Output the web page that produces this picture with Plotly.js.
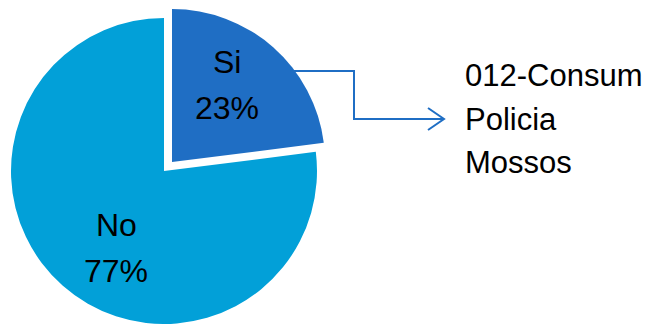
<!DOCTYPE html>
<html>
<head>
<meta charset="utf-8">
<script src="https://cdn.plot.ly/plotly-3.0.1.min.js"></script>
<style>html,body{margin:0;padding:0;background:#fff;}#chart{width:659px;height:324px;}</style>
</head>
<body>
<div id="chart"></div>
<script>
var categories = ['Si', 'No'];
var values = [23, 77];
var sliceColors = ['#1F6EC4', '#02A0D8'];
var calloutLines = ['012-Consum', 'Policia', 'Mossos'];

var W = 659, H = 324;
function px(x) { return x / W; }
function py(y) { return 1 - y / H; }

var fontFam = 'Liberation Sans, Arial, sans-serif';
var clear = 'rgba(0,0,0,0)';
var total = values.reduce(function (a, b) { return a + b; }, 0);

// main pie (No slice), and the pulled-out Si slice drawn as a second trace
var traceNo = {
  type: 'pie', labels: categories, values: values, sort: false,
  direction: 'clockwise', rotation: 0,
  marker: { colors: [clear, sliceColors[1]], line: { width: 0 } },
  textinfo: 'none',
  domain: { x: [px(11), px(317)], y: [py(324), py(18)] },
  hoverinfo: 'skip', showlegend: false
};
var traceSi = {
  type: 'pie', labels: categories, values: values, sort: false,
  direction: 'clockwise', rotation: 0,
  marker: { colors: [sliceColors[0], clear], line: { width: 0 } },
  textinfo: 'none',
  domain: { x: [px(19), px(325)], y: [py(315), py(9)] },
  hoverinfo: 'skip', showlegend: false
};

var path = 'M ' + px(260) + ',' + py(71) + ' L ' + px(354) + ',' + py(71) +
  ' L ' + px(354) + ',' + py(119) + ' L ' + px(444) + ',' + py(119) +
  ' M ' + px(428) + ',' + py(108) + ' L ' + px(444) + ',' + py(119) +
  ' L ' + px(428) + ',' + py(130);

var annotations = calloutLines.map(function (t, i) {
  return {
    xref: 'paper', yref: 'paper', x: px(463), y: py(76 + 43 * i),
    xanchor: 'left', yanchor: 'middle', showarrow: false, text: t,
    font: { family: fontFam, size: 31, color: '#000' }
  };
});

// slice labels: category name and its percentage, placed inside each slice
var labelPos = [{ x: 227, y: 62 }, { x: 116, y: 225 }];
categories.forEach(function (c, i) {
  var pct = Math.round(values[i] / total * 100) + '%';
  [c, pct].forEach(function (t, j) {
    annotations.push({
      xref: 'paper', yref: 'paper', x: px(labelPos[i].x), y: py(labelPos[i].y + 46 * j),
      xanchor: 'center', yanchor: 'middle', showarrow: false, text: t,
      font: { family: fontFam, size: 32, color: '#000' }
    });
  });
});

var layout = {
  width: W, height: H,
  margin: { l: 0, r: 0, t: 0, b: 0 },
  paper_bgcolor: '#fff', plot_bgcolor: '#fff',
  showlegend: false,
  shapes: [{ type: 'path', xref: 'paper', yref: 'paper', path: path,
             line: { color: '#1F6EC4', width: 2 } }],
  annotations: annotations
};

Plotly.newPlot('chart', [traceNo, traceSi], layout, { displayModeBar: false, staticPlot: true });
</script>
</body>
</html>
